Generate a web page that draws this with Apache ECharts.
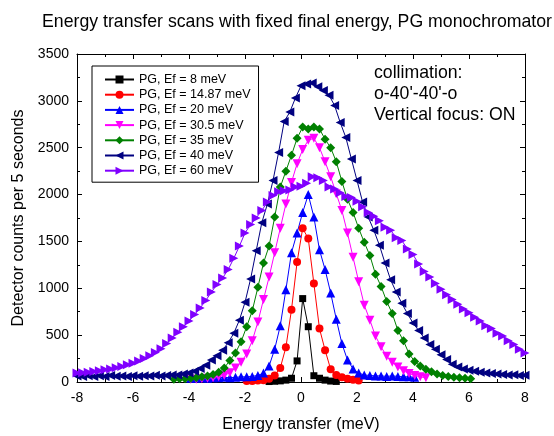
<!DOCTYPE html>
<html>
<head>
<meta charset="utf-8">
<script src="https://cdn.jsdelivr.net/npm/echarts@6/dist/echarts.min.js"></script>
<style>
  html, body { margin: 0; padding: 0; background: #fff; }
  #chart { width: 554px; height: 436px; }
</style>
</head>
<body>
<div id="chart"></div>
<script>
// scan grid step (meV)
const step = 0.2;

// Ef = 8 meV
const ef8Start = -1.14;
const ef8Counts = [5, 8, 12, 20, 40, 225, 890, 590, 67, 40, 20, 10, 6];

// Ef = 14.87 meV
const ef1487Start = -1.94;
const ef1487Counts = [10, 12, 15, 20, 35, 70, 150, 370, 770, 1280, 1640, 1530, 1050, 570, 340, 135, 75, 50, 35, 25, 15];

// Ef = 20 meV
const ef20Start = -3.94;
const ef20Counts = [40, 40, 45, 40, 45, 45, 50, 45, 50, 55, 55, 60, 70, 95, 170, 350, 600, 985, 1380, 1590,
  1810, 2000, 1760, 1410, 1200, 950, 670, 410, 235, 140, 95, 75, 70, 65, 65, 60, 65, 60, 55, 55, 50];

// Ef = 30.5 meV
const ef305Start = -3.94;
const ef305Counts = [30, 30, 35, 40, 45, 55, 70, 100, 150, 210, 300, 440, 640, 880, 1120, 1380, 1640, 1900, 2130, 2330,
  2480, 2580, 2600, 2500, 2350, 2190, 2010, 1830, 1590, 1330, 1070, 820, 660, 490, 375, 275, 210, 160, 120, 90, 70, 55, 45];

// Ef = 35 meV
const ef35Start = -4.54;
const ef35Counts = [30, 35, 35, 40, 45, 55, 65, 80, 105, 150, 230, 310, 430, 590, 760, 1010, 1270, 1450, 1760, 2080,
  2250, 2420, 2600, 2720, 2700, 2720, 2700, 2590, 2500, 2350, 2140, 1950, 1810, 1640, 1490, 1350, 1150, 1020, 860, 730,
  550, 440, 300, 220, 170, 135, 110, 85, 70, 60, 50, 45, 40, 35];

// Ef = 40 meV
const ef40Start = -8;
const ef40Counts = [65, 60, 68, 58, 66, 60, 70, 62, 65, 58, 67, 61, 66, 64, 72, 65, 70, 76, 75, 85,
  95, 115, 145, 180, 235, 280, 340, 420, 520, 660, 850, 1100, 1400, 1700, 1900, 2150, 2450, 2780, 2880, 3030,
  3160, 3180, 3190, 3150, 3110, 3060, 2950, 2770, 2610, 2380, 2150, 1920, 1760, 1620, 1460, 1270, 1090, 960, 840, 730,
  630, 550, 470, 400, 350, 290, 240, 190, 160, 140, 125, 115, 105, 95, 90, 85, 80, 75, 78, 70, 72];

// Ef = 60 meV
const ef60Start = -8;
const ef60Counts = [95, 100, 105, 112, 120, 130, 140, 152, 165, 185, 200, 225, 250, 280, 315, 355, 410, 470, 530, 590,
  650, 720, 790, 870, 960, 1040, 1110, 1200, 1320, 1450, 1590, 1680, 1750, 1830, 1920, 1990, 2030, 2040, 2050, 2080,
  2090, 2120, 2190, 2180, 2150, 2080, 2060, 2020, 1980, 1970, 1930, 1870, 1810, 1770, 1720, 1650, 1620, 1540, 1510, 1420,
  1360, 1260, 1180, 1120, 1050, 990, 930, 880, 830, 780, 740, 690, 650, 600, 570, 520, 490, 440, 400, 350, 310];

const legendNames = ['PG, Ef = 8 meV', 'PG, Ef = 14.87 meV', 'PG, Ef = 20 meV', 'PG, Ef = 30.5 meV',
  'PG, Ef = 35 meV', 'PG, Ef = 40 meV', 'PG, Ef = 60 meV'];
const xTicks = [-8, -6, -4, -2, 0, 2, 4, 6, 8];
const yTicks = [0, 500, 1000, 1500, 2000, 2500, 3000, 3500];

const FONT = '"Liberation Sans", Arial, sans-serif';

function pairs(start, counts) {
  return counts.map((c, i) => [Math.round((start + i * step) * 100) / 100, c]);
}

function makeSeries(name, start, counts, color, symbol, size, rotate) {
  return {
    name: name,
    type: 'line',
    data: pairs(start, counts),
    xAxisIndex: 0,
    yAxisIndex: 0,
    symbol: symbol,
    symbolSize: size,
    symbolRotate: rotate,
    showAllSymbol: true,
    lineStyle: { color: color, width: 1 },
    itemStyle: { color: color },
    animation: false
  };
}

const chart = echarts.init(document.getElementById('chart'));

const tickStyle = { show: true, inside: true, length: 5, lineStyle: { color: '#000' } };
const minorStyle = { show: true, splitNumber: 2, length: 3, lineStyle: { color: '#000' } };
const lineStyle = { show: true, onZero: false, lineStyle: { color: '#000' } };

const option = {
  animation: false,
  textStyle: { fontFamily: FONT },
  grid: { left: 77, right: 29, top: 54, bottom: 54, containLabel: false, outerBoundsMode: 'none' },
  xAxis: [
    {
      type: 'value', min: xTicks[0], max: xTicks[xTicks.length - 1], interval: 2,
      name: 'Energy transfer (meV)', nameLocation: 'middle', nameGap: 35,
      nameTextStyle: { fontSize: 16, color: '#000', fontFamily: FONT },
      axisLine: lineStyle, axisTick: tickStyle, minorTick: minorStyle,
      splitLine: { show: false },
      axisLabel: { fontSize: 14, color: '#000', margin: 9, fontFamily: FONT }
    },
    {
      type: 'value', position: 'top', min: -8, max: 8, interval: 2,
      axisLine: lineStyle, axisTick: tickStyle, minorTick: minorStyle,
      splitLine: { show: false }, axisLabel: { show: false }
    }
  ],
  yAxis: [
    {
      type: 'value', min: yTicks[0], max: yTicks[yTicks.length - 1], interval: 500,
      name: 'Detector counts per 5 seconds', nameLocation: 'middle', nameGap: 49,
      nameTextStyle: { fontSize: 16, color: '#000', fontFamily: FONT },
      axisLine: lineStyle, axisTick: tickStyle, minorTick: minorStyle,
      splitLine: { show: false },
      axisLabel: { fontSize: 14, color: '#000', margin: 8, fontFamily: FONT, formatter: v => String(v) }
    },
    {
      type: 'value', position: 'right', min: 0, max: 3500, interval: 500,
      axisLine: lineStyle, axisTick: tickStyle, minorTick: minorStyle,
      splitLine: { show: false }, axisLabel: { show: false }
    }
  ],
  legend: {
    orient: 'vertical',
    left: 92, top: 66,
    padding: [7, 8, 5, 12],
    itemWidth: 29, itemHeight: 10, itemGap: 2.2,
    borderColor: '#000', borderWidth: 1,
    textStyle: { fontSize: 12.5, color: '#000', fontFamily: FONT },
    data: legendNames
  },
  graphic: [
    { type: 'text', x: 297, y: 22, style: { text: 'Energy transfer scans with fixed final energy, PG monochromator',
      fontSize: 17.7, fontFamily: FONT, fill: '#000', align: 'center', verticalAlign: 'middle' } },
    { type: 'text', x: 374, y: 73, style: { text: 'collimation:', fontSize: 17.7, fontFamily: FONT, fill: '#000', verticalAlign: 'middle' } },
    { type: 'text', x: 374, y: 94, style: { text: "o-40'-40'-o", fontSize: 17.7, fontFamily: FONT, fill: '#000', verticalAlign: 'middle' } },
    { type: 'text', x: 374, y: 115, style: { text: 'Vertical focus: ON', fontSize: 17.7, fontFamily: FONT, fill: '#000', verticalAlign: 'middle' } }
  ],
  series: [
    makeSeries(legendNames[0], ef8Start, ef8Counts, '#000000', 'rect', 7, 0),
    makeSeries(legendNames[1], ef1487Start, ef1487Counts, '#ff0000', 'circle', 8, 0),
    makeSeries(legendNames[2], ef20Start, ef20Counts, '#0000ff', 'triangle', 9, 0),
    makeSeries(legendNames[3], ef305Start, ef305Counts, '#ff00ff', 'triangle', 9, 180),
    makeSeries(legendNames[4], ef35Start, ef35Counts, '#008000', 'diamond', 9, 0),
    makeSeries(legendNames[5], ef40Start, ef40Counts, '#000080', 'triangle', 9, 90),
    makeSeries(legendNames[6], ef60Start, ef60Counts, '#8000ff', 'triangle', 9, -90)
  ]
};

chart.setOption(option);
</script>
</body>
</html>
